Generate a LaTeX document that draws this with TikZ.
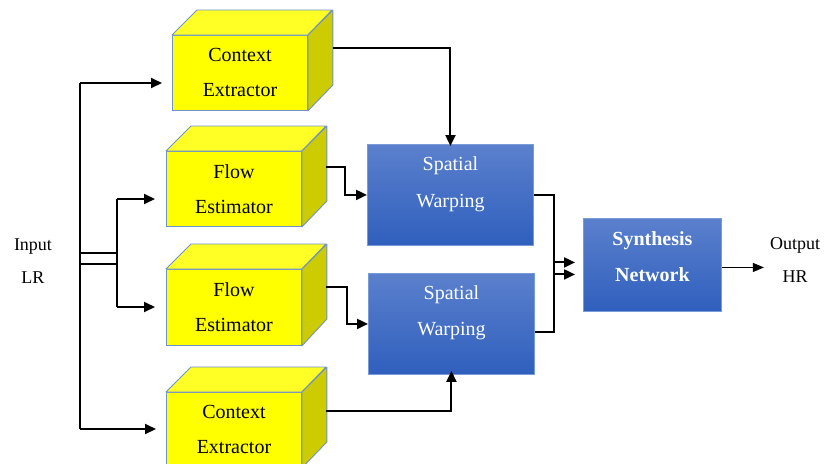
\documentclass[tikz,border=0pt]{standalone}
\usepackage{fontspec}
\setmainfont{LiberationSerif}[Extension=.ttf, UprightFont=*-Regular, BoldFont=*-Bold]
\usetikzlibrary{arrows.meta,calc}

\definecolor{cubefront}{HTML}{FFFF00}
\definecolor{cubetop}{HTML}{FFFF26}
\definecolor{cubeside}{HTML}{CCCC00}
\definecolor{cubeedge}{HTML}{6F93C8}
\definecolor{blueTop}{HTML}{5B80CD}
\definecolor{blueBot}{HTML}{2F5FBD}
\definecolor{blueEdge}{HTML}{7A9BDA}

\tikzset{
  cube/.style={draw=cubeedge, line width=0.9pt, fill=cubefront, anchor=north west,
    minimum width=135pt, minimum height=75pt, inner sep=0pt, align=center,
    font=\fontsize{20}{35}\selectfont},
  face/.style={draw=cubeedge, line width=0.9pt, line join=round},
  bluebox/.style={draw=blueEdge, line width=0.9pt, top color=blueTop, bottom color=blueBot,
    anchor=north west, inner sep=0pt, text=white, align=center},
  label/.style={align=center, font=\fontsize{18}{33}\selectfont},
  wire/.style={line width=2pt, line join=miter},
  arr/.style={wire, -{Triangle[length=11pt,width=10pt]}},
  thinarr/.style={line width=1.1pt, -{Triangle[length=11pt,width=9pt]}}
}

% top and side faces of a cube whose front face is node #1
\newcommand\cubefaces[1]{%
  \draw[face, fill=cubetop] (#1.north west) -- ++(25,-25) -- ++(135,0) -- (#1.north east) -- cycle;
  \draw[face, fill=cubeside] (#1.north east) -- ++(25,-25) -- ++(0,75) -- (#1.south east) -- cycle;
}

\begin{document}
\begin{tikzpicture}[x=1pt,y=-1pt]
\useasboundingbox (0,0) rectangle (824,463);

% feature extractors
\node[cube] (ce1) at (172,35) {Context\\Extractor};
\cubefaces{ce1}
\node[cube] (fe1) at (166,151) {Flow\\Estimator};
\cubefaces{fe1}
\node[cube, minimum height=76pt] (fe2) at (166,269) {Flow\\Estimator};
\cubefaces{fe2}
\node[cube] (ce2) at (166,392) {Context\\Extractor};
\cubefaces{ce2}

% warping and synthesis stages
\node[bluebox, minimum width=166pt, minimum height=101pt,
      text depth=26pt, font=\fontsize{20}{37}\selectfont] (sw1) at (367,144) {Spatial\\Warping};
\node[bluebox, minimum width=166pt, minimum height=101pt,
      text depth=26pt, font=\fontsize{20}{36}\selectfont] (sw2) at (368,273) {Spatial\\Warping};
\node[bluebox, minimum width=138pt, minimum height=93pt,
      text depth=17pt, font=\bfseries\fontsize{20}{36}\selectfont] (syn) at (583,218) {Synthesis\\Network};

% input and output labels
\node[label] (inp) at (33,261) {Input\\LR};
\node[label] (outp) at (795,260) {Output\\HR};

% input distribution
\coordinate (ta) at (80,83);
\coordinate (tb) at (80,429);
\coordinate (ua) at (117,199);
\coordinate (ub) at (117,307);
\draw[wire] (ta) -- (tb);
\draw[wire] (ua) -- (ub);
\draw[wire] (80,253) -- (117,253);
\draw[wire] (80,264) -- (117,264);
\draw[arr] (ta) -- ([xshift=-10pt]ce1.west |- ta);
\draw[arr] (tb) -- ([xshift=-10pt]ce2.west |- tb);
\draw[arr] (ua) -- ([xshift=-11pt]fe1.west |- ua);
\draw[arr] (ub) -- ([xshift=-11pt]fe2.west |- ub);

% extractors to warping
\draw[arr] ($(ce1.east)+(25,-25)$) -| ([yshift=-2pt]sw1.north);
\draw[arr] ($(fe1.east)+(24,-22)$) -- ++(19,0) |- (sw1.west);
\draw[arr] ($(fe2.east)+(24,-20)$) -- ++(21,0) |- (sw2.west);
\draw[arr] ($(ce2.east)+(24,-19)$) -| ([yshift=4pt]sw2.south);

% warping to synthesis
\draw[arr] (sw1.east) -- ++(20,0) |- ([xshift=-8pt,yshift=-9.5pt]syn.west);
\draw[arr] ($(sw2.east)+(0,8.5)$) -- ++(19,0) |- ([xshift=-8pt,yshift=2.5pt]syn.west);

% output
\draw[thinarr] ([yshift=-2.5pt]syn.east) -- ++(42,0);
\end{tikzpicture}
\end{document}
